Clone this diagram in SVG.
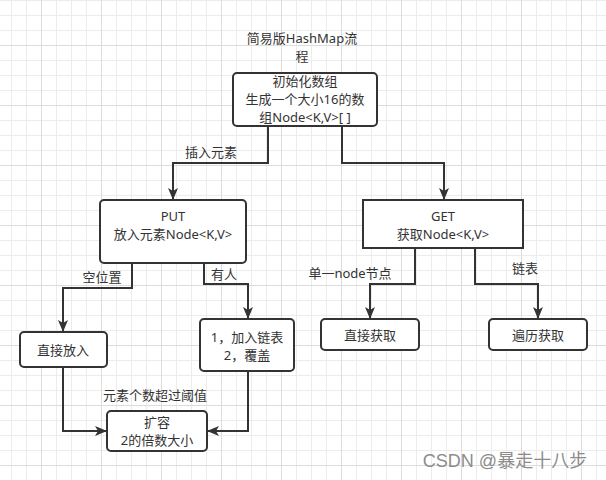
<svg xmlns="http://www.w3.org/2000/svg" width="606" height="480" viewBox="0 0 606 480">
<defs>
<pattern id="grid" patternUnits="userSpaceOnUse" x="41" y="45" width="60" height="60">
<rect width="60" height="60" fill="#ffffff"/>
<rect x="15" y="0" width="1" height="60" fill="#ececec"/>
<rect x="30" y="0" width="1" height="60" fill="#ececec"/>
<rect x="45" y="0" width="1" height="60" fill="#ececec"/>
<rect x="0" y="15" width="60" height="1" fill="#ececec"/>
<rect x="0" y="30" width="60" height="1" fill="#ececec"/>
<rect x="0" y="45" width="60" height="1" fill="#ececec"/>
<rect x="0" y="0" width="1" height="60" fill="#dcdcdc"/>
<rect x="0" y="0" width="60" height="1" fill="#dcdcdc"/>
</pattern>
<marker id="arr" markerUnits="userSpaceOnUse" markerWidth="12" markerHeight="12" viewBox="0 0 12 12" refX="12" refY="6" orient="auto">
<path d="M0,1 L12,6 L0,11 L3,6 Z" fill="#333333"/>
</marker>
</defs>
<style>
.box{fill:#ffffff;stroke:#333333;stroke-width:2}
.t{font-family:"Noto Sans","Noto Sans CJK SC",sans-serif;font-size:13px;fill:#333333;text-anchor:middle}
.edge{fill:none;stroke:#333333;stroke-width:2;marker-end:url(#arr)}
</style>
<rect width="606" height="480" fill="url(#grid)"/>

<g id="title">
<text class="t" x="302" y="43">简易版HashMap流</text>
<text class="t" x="302" y="61">程</text>
</g>

<g id="connectors">
<path class="edge" d="M268,126 V163 H173 V200"/>
<path class="edge" d="M342,126 V163 H444 V200"/>
<path class="edge" d="M132,263 V288 H63 V332"/>
<path class="edge" d="M204,263 V284 H248 V319"/>
<path class="edge" d="M415,248 V284 H370 V319"/>
<path class="edge" d="M475,248 V284 H538 V319"/>
<path class="edge" d="M63,367 V431 H107"/>
<path class="edge" d="M248,371 V431 H207"/>
<text class="t" x="211" y="157">插入元素</text>
<text class="t" x="102" y="282">空位置</text>
<text class="t" x="224" y="279">有人</text>
<text class="t" x="350" y="278">单一node节点</text>
<text class="t" x="525" y="273">链表</text>
<text class="t" x="155" y="400">元素个数超过阈值</text>
</g>

<g id="init">
<rect class="box" x="233" y="73" width="144" height="53" rx="4"/>
<text class="t" x="305" y="86">初始化数组</text>
<text class="t" x="305" y="104">生成一个大小16的数</text>
<text class="t" x="305" y="122">组Node&lt;K,V&gt;[ ]</text>
</g>

<g id="put">
<rect class="box" x="100" y="200" width="146" height="63" rx="4"/>
<text class="t" x="173" y="221">PUT</text>
<text class="t" x="173" y="239">放入元素Node&lt;K,V&gt;</text>
</g>

<g id="get">
<rect class="box" x="363" y="200" width="160" height="48"/>
<text class="t" x="443" y="221">GET</text>
<text class="t" x="443" y="239">获取Node&lt;K,V&gt;</text>
</g>

<g id="direct-put">
<rect class="box" x="20" y="332" width="87" height="35" rx="4"/>
<text class="t" x="63" y="355">直接放入</text>
</g>

<g id="list-put">
<rect class="box" x="200" y="319" width="94" height="52" rx="4"/>
<text class="t" x="247" y="342">1，加入链表</text>
<text class="t" x="247" y="360">2，覆盖</text>
</g>

<g id="direct-get">
<rect class="box" x="321" y="319" width="98" height="31" rx="4"/>
<text class="t" x="370" y="340">直接获取</text>
</g>

<g id="traverse-get">
<rect class="box" x="489" y="319" width="98" height="31" rx="4"/>
<text class="t" x="538" y="340">遍历获取</text>
</g>

<g id="resize">
<rect class="box" x="107" y="411" width="100" height="40" rx="4"/>
<text class="t" x="157" y="427">扩容</text>
<text class="t" x="157" y="445">2的倍数大小</text>
</g>

<text x="505" y="467" style="font-family:'Liberation Sans','Noto Sans CJK SC',sans-serif;font-size:18px;fill:#8c8c8c;text-anchor:middle">CSDN @暴走十八步</text>
</svg>
